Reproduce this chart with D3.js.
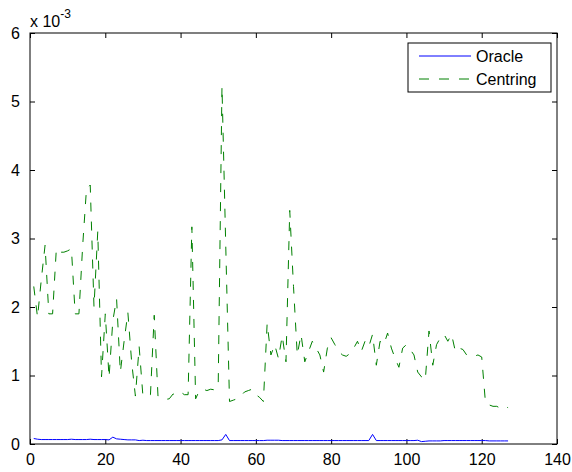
<!DOCTYPE html>
<html>
<head>
<meta charset="utf-8">
<script src="https://cdn.jsdelivr.net/npm/d3@7"></script>
<style>
  body { margin: 0; background: #fff; }
  text { font-family: "Liberation Sans", Arial, sans-serif; }
</style>
</head>
<body>
<div class="chart"></div>
<script>
const dims = { width: 572, height: 472 };
const margin = { top: 33, right: 15, bottom: 28, left: 30 };

// values in units of 1e-3, x = 1..127
const oracle = [0.08,0.07,0.065,0.065,0.065,0.065,0.065,0.065,0.065,0.065,
  0.07,0.065,0.065,0.065,0.065,0.07,0.065,0.065,0.065,0.065,
  0.06,0.1,0.075,0.07,0.065,0.06,0.06,0.06,0.05,0.055,
  0.05,0.05,0.05,0.05,0.05,0.05,0.05,0.05,0.05,0.05,
  0.05,0.05,0.05,0.05,0.05,0.05,0.05,0.05,0.05,0.05,
  0.06,0.14,0.05,0.05,0.05,0.05,0.05,0.05,0.05,0.05,
  0.05,0.05,0.055,0.055,0.055,0.055,0.05,0.05,0.05,0.05,
  0.05,0.05,0.05,0.05,0.05,0.05,0.05,0.05,0.05,0.05,
  0.05,0.05,0.05,0.05,0.05,0.05,0.05,0.05,0.05,0.05,
  0.14,0.05,0.05,0.05,0.05,0.05,0.05,0.05,0.05,0.05,
  0.05,0.05,0.055,0.035,0.04,0.045,0.045,0.045,0.045,0.05,
  0.05,0.05,0.05,0.05,0.05,0.05,0.05,0.05,0.05,0.05,
  0.05,0.045,0.045,0.045,0.045,0.045,0.045];

const centring = [2.30,1.85,2.40,2.90,1.90,1.90,2.85,2.80,2.80,2.82,
  2.85,1.90,1.90,2.90,3.72,3.78,2.00,3.10,0.98,1.90,
  0.97,1.80,2.12,1.05,1.50,1.92,1.20,0.70,1.42,0.70,
  0.72,0.72,1.88,0.70,0.67,0.65,0.66,0.73,0.72,0.76,
  0.72,0.72,3.17,0.66,0.78,0.80,0.78,0.80,0.79,0.85,
  5.22,2.90,0.62,0.64,0.66,0.70,0.76,0.78,0.80,0.72,
  0.68,0.62,1.76,1.30,1.45,1.25,1.58,1.20,3.41,2.30,
  1.30,1.60,1.20,1.35,1.50,1.40,1.30,1.05,1.40,1.55,
  1.45,1.35,1.30,1.28,1.32,1.40,1.50,1.35,1.50,1.42,
  1.60,1.15,1.50,1.45,1.62,1.40,1.25,1.12,1.40,1.45,
  1.38,1.30,1.05,0.98,0.93,1.65,1.15,1.45,1.55,1.60,
  1.50,1.60,1.35,1.40,1.38,1.30,1.28,1.28,1.30,1.27,
  0.60,0.57,0.55,0.55,0.52,0.55,0.53];

const x_ticks = [0, 20, 40, 60, 80, 100, 120, 140];
const y_ticks = [0, 1, 2, 3, 4, 5, 6];
const series_names = ["Oracle", "Centring"];

var svg = d3.select(".chart")
            .append("svg")
            .attr("width", dims.width)
            .attr("height", dims.height);

var x = d3.scaleLinear().domain([0, 140]).range([margin.left, dims.width - margin.right]);
var y = d3.scaleLinear().domain([0, 6]).range([dims.height - margin.bottom, margin.top]);

// frame
svg.append("rect")
   .attr("x", x(0)).attr("y", y(6))
   .attr("width", x(140) - x(0)).attr("height", y(0) - y(6))
   .attr("fill", "none").attr("stroke", "#000").attr("stroke-width", 1);

const bottom_axis = svg.append("g").attr("transform", `translate(0,${y(0)})`)
   .call(d3.axisBottom(x).tickValues(x_ticks).tickSize(-5).tickPadding(10).tickFormat(d3.format("d")));
const top_axis = svg.append("g").attr("transform", `translate(0,${y(6)})`)
   .call(d3.axisTop(x).tickValues(x_ticks).tickSize(-5).tickFormat(""));
const left_axis = svg.append("g").attr("transform", `translate(${x(0)},0)`)
   .call(d3.axisLeft(y).tickValues(y_ticks).tickSize(-5).tickPadding(10).tickFormat(d3.format("d")));
const right_axis = svg.append("g").attr("transform", `translate(${x(140)},0)`)
   .call(d3.axisRight(y).tickValues(y_ticks).tickSize(-5).tickFormat(""));

svg.selectAll(".domain").remove();
svg.selectAll(".tick line").attr("stroke", "#000");
svg.selectAll(".tick text").attr("font-size", 16).attr("fill", "#000")
   .attr("font-family", "Liberation Sans, Arial, sans-serif");

// exponent label
const expo = svg.append("text")
   .attr("x", 30).attr("y", 27)
   .attr("font-size", 16).attr("fill", "#000");
expo.append("tspan").text("x 10");
expo.append("tspan").attr("dy", -9).attr("font-size", 12).text("-3");

var line = d3.line()
   .x(function(d, i) { return x(i + 1); })
   .y(function(d) { return y(d); });

svg.append("path").datum(centring)
   .attr("d", line).attr("fill", "none")
   .attr("stroke", "#008000").attr("stroke-width", 1)
   .attr("stroke-dasharray", "9,10");

svg.append("path").datum(oracle)
   .attr("d", line).attr("fill", "none")
   .attr("stroke", "#0000ff").attr("stroke-width", 1);

// legend
const legend = svg.append("g");
legend.append("rect")
   .attr("x", 408).attr("y", 43).attr("width", 143).attr("height", 49)
   .attr("fill", "#fff").attr("stroke", "#000").attr("stroke-width", 1);
const legend_styles = [{ color: "#0000ff", dash: null }, { color: "#008000", dash: "10,10" }];
series_names.forEach(function(name, i) {
  const ly = 56 + i * 23;
  legend.append("line")
     .attr("x1", 419).attr("x2", 471).attr("y1", ly).attr("y2", ly)
     .attr("stroke", legend_styles[i].color).attr("stroke-width", 1)
     .attr("stroke-dasharray", legend_styles[i].dash);
  legend.append("text")
     .attr("x", 476).attr("y", ly).attr("dy", "0.35em")
     .attr("font-size", 16).attr("fill", "#000")
     .text(name);
});
</script>
</body>
</html>
